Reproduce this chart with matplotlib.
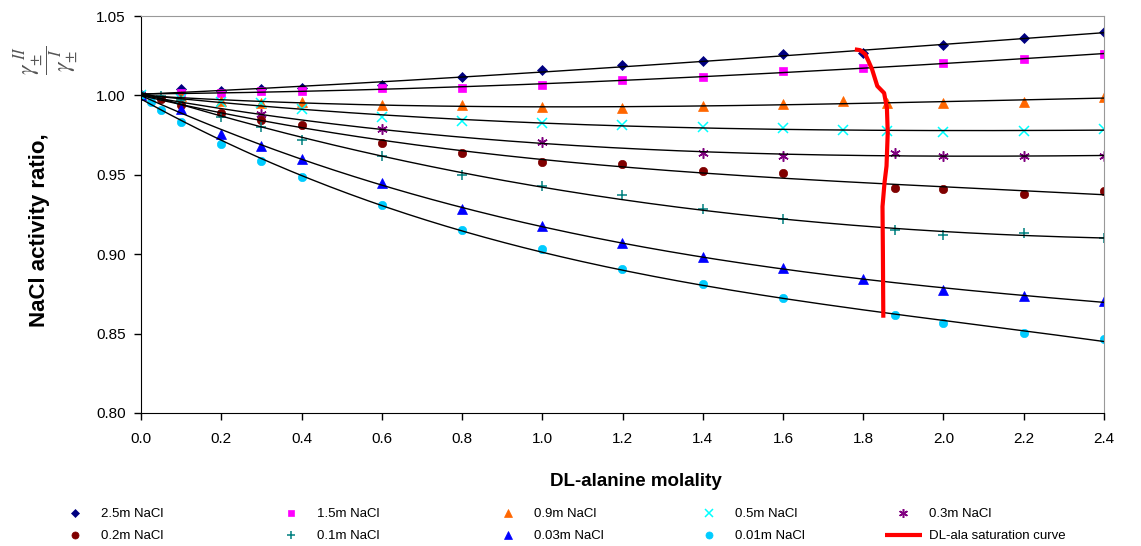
import numpy as np
import matplotlib
matplotlib.use("Agg")
import matplotlib.pyplot as plt

# DL-alanine molality / NaCl activity ratio, one pair of lists per NaCl series
x_25 = [0, 0.1, 0.2, 0.3, 0.4, 0.6, 0.8, 1.0, 1.2, 1.4, 1.6, 1.8, 2.0, 2.2, 2.4]
y_25 = [1.000, 1.004, 1.003, 1.0042, 1.0046, 1.0067, 1.0118, 1.0162, 1.019, 1.0214,
        1.0258, 1.0264, 1.0317, 1.0361, 1.0399]

x_15 = [0, 0.1, 0.2, 0.3, 0.4, 0.6, 0.8, 1.0, 1.2, 1.4, 1.6, 1.8, 2.0, 2.2, 2.4]
y_15 = [1.000, 1.0018, 1.0017, 1.0025, 1.0025, 1.0046, 1.0048, 1.0067, 1.0094, 1.0113,
        1.0151, 1.0174, 1.0201, 1.0231, 1.0262]

x_09 = [0, 0.1, 0.2, 0.3, 0.4, 0.6, 0.8, 1.0, 1.2, 1.4, 1.6, 1.75, 1.86, 2.0, 2.2, 2.4]
y_09 = [1.000, 0.9994, 0.9964, 0.9954, 0.9958, 0.9941, 0.9937, 0.9926, 0.9918, 0.9933,
        0.9948, 0.9962, 0.9954, 0.995, 0.996, 0.9992]

x_05 = [0, 0.1, 0.2, 0.3, 0.4, 0.6, 0.8, 1.0, 1.2, 1.4, 1.6, 1.75, 1.86, 2.0, 2.2, 2.4]
y_05 = [1.000, 0.9975, 0.9958, 0.995, 0.9916, 0.9866, 0.9836, 0.9826, 0.9813, 0.980,
        0.9792, 0.9784, 0.9778, 0.9771, 0.9775, 0.9786]

x_03 = [0, 0.3, 0.6, 1.0, 1.4, 1.6, 1.88, 2.0, 2.2, 2.4]
y_03 = [1.000, 0.988, 0.9786, 0.9706, 0.9635, 0.9618, 0.9637, 0.9618, 0.9618, 0.9618]

x_02 = [0, 0.05, 0.1, 0.2, 0.3, 0.4, 0.6, 0.8, 1.0, 1.2, 1.4, 1.6, 1.88, 2.0, 2.2, 2.4]
y_02 = [1.000, 0.9975, 0.9937, 0.989, 0.9844, 0.9811, 0.970, 0.9639, 0.9582, 0.957,
        0.9523, 0.9509, 0.9419, 0.9412, 0.9377, 0.9397]

x_01 = [0, 0.05, 0.1, 0.2, 0.3, 0.4, 0.6, 0.8, 1.0, 1.2, 1.4, 1.6, 1.88, 2.0, 2.2, 2.4]
y_01 = [1.000, 0.9994, 0.9969, 0.9863, 0.9798, 0.9719, 0.9618, 0.9498, 0.9429, 0.937,
        0.9282, 0.9219, 0.9154, 0.9118, 0.9135, 0.9104]

x_003 = [0, 0.1, 0.2, 0.3, 0.4, 0.6, 0.8, 1.0, 1.2, 1.4, 1.6, 1.8, 2.0, 2.2, 2.4]
y_003 = [1.000, 0.9916, 0.9754, 0.968, 0.9597, 0.945, 0.9286, 0.9177, 0.9072, 0.8982,
         0.8915, 0.8846, 0.8772, 0.8736, 0.8705]

x_001 = [0, 0.025, 0.05, 0.1, 0.2, 0.3, 0.4, 0.6, 0.8, 1.0, 1.2, 1.4, 1.6, 1.88, 2.0, 2.2, 2.4]
y_001 = [1.000, 0.9958, 0.9906, 0.9832, 0.9693, 0.9589, 0.9488, 0.9309, 0.915, 0.903,
         0.8904, 0.881, 0.8726, 0.8617, 0.8564, 0.8506, 0.8468]

# DL-ala saturation curve
x_sat = [1.779, 1.792, 1.805, 1.814, 1.822, 1.835, 1.852, 1.859, 1.861, 1.858, 1.853, 1.848, 1.849, 1.85]
y_sat = [1.029, 1.0285, 1.026, 1.021, 1.0164, 1.0059, 1.0015, 0.992, 0.9765, 0.9555, 0.945, 0.930, 0.90, 0.86]

labels = ["2.5m NaCl", "1.5m NaCl", "0.9m NaCl", "0.5m NaCl", "0.3m NaCl",
          "0.2m NaCl", "0.1m NaCl", "0.03m NaCl", "0.01m NaCl"]

series = [(x_25, y_25), (x_15, y_15), (x_09, y_09), (x_05, y_05), (x_03, y_03),
          (x_02, y_02), (x_01, y_01), (x_003, y_003), (x_001, y_001)]

# marker, colour, size
styles = [("D", "#000080", 5.3),
          ("s", "#FF00FF", 5.6),
          ("^", "#FF6600", 6.5),
          ("x", "#00FFFF", 6.5),
          ((6, 2, 0), "#800080", 7.5),
          ("o", "#800000", 6),
          ("+", "#008080", 7.5),
          ("^", "#0000FF", 6.5),
          ("o", "#00CCFF", 6)]

plt.rcParams['font.family'] = ['Liberation Sans', 'DejaVu Sans']
plt.rcParams['mathtext.fontset'] = 'stix'

W, H = 1141, 546
fig = plt.figure(figsize=(W / 100, H / 100), dpi=100)
ax = fig.add_axes([141 / W, 1 - 413 / H, (1104 - 141) / W, (413 - 16) / H])

handles = []
for (xs, ys), (mk, col, ms), lab in zip(series, styles, labels):
    h, = ax.plot(xs, ys, linestyle="none", marker=mk, color=col, markersize=ms,
                 markeredgewidth=1.1 if mk in ("x", "+", (6, 2, 0)) else 0.5,
                 label=lab, zorder=2)
    handles.append(h)
    # excel-like polynomial trendline
    coef = np.polyfit(xs, ys, 3)
    xx = np.linspace(0, 2.4, 200)
    ax.plot(xx, np.polyval(coef, xx), color="black", linewidth=1.0, zorder=3)

sat, = ax.plot(x_sat, y_sat, color="#FF0000", linewidth=3, zorder=4,
               label="DL-ala saturation curve", solid_capstyle="butt")
handles.append(sat)

ax.set_xlim(0, 2.4)
ax.set_ylim(0.80, 1.05)
ax.set_xticks(np.arange(0, 2.41, 0.2))
ax.set_yticks(np.arange(0.80, 1.051, 0.05))
ax.set_xticklabels(["%.1f" % v for v in np.arange(0, 2.41, 0.2)])
ax.set_yticklabels(["%.2f" % v for v in np.arange(0.80, 1.051, 0.05)])
ax.tick_params(axis="both", direction="out", length=5, width=1, labelsize=11)
ax.tick_params(axis="x", pad=9)
ax.tick_params(axis="y", pad=6)
ax.spines["top"].set_color("#999999")
ax.spines["right"].set_color("#999999")
for s in ("left", "bottom"):
    ax.spines[s].set_color("black")

fig.text(636 / W, 1 - 481 / H, "DL-alanine molality", ha="center", va="center",
         fontsize=13.5, fontweight="bold")
fig.text(40 / W, 1 - 230 / H, "NaCl activity ratio,", ha="center", va="center",
         rotation=90, fontsize=16, fontweight="bold")
fig.text(47 / W, 1 - 60 / H, r"$\dfrac{\gamma_{\pm}^{\ II}}{\gamma_{\pm}^{\ I}}$",
         ha="center", va="center", rotation=90, fontsize=17, color="#555555")

# legend: 5 columns of 2 entries below the chart
col_x = [57, 273, 490, 691, 885]
order = [(0, 5), (1, 6), (2, 7), (3, 8), (4, 9)]
for cx, (a, b) in zip(col_x, order):
    fig.legend([handles[a], handles[b]], [handles[a].get_label(), handles[b].get_label()],
               loc="upper left", bbox_to_anchor=(cx / W, 1 - 508 / H),
               frameon=False, fontsize=9.5, handlelength=2.8, handletextpad=0.55,
               borderpad=0, borderaxespad=0, labelspacing=0.75, numpoints=1,
               markerscale=0.85)

fig.savefig("out.png", dpi=100)
